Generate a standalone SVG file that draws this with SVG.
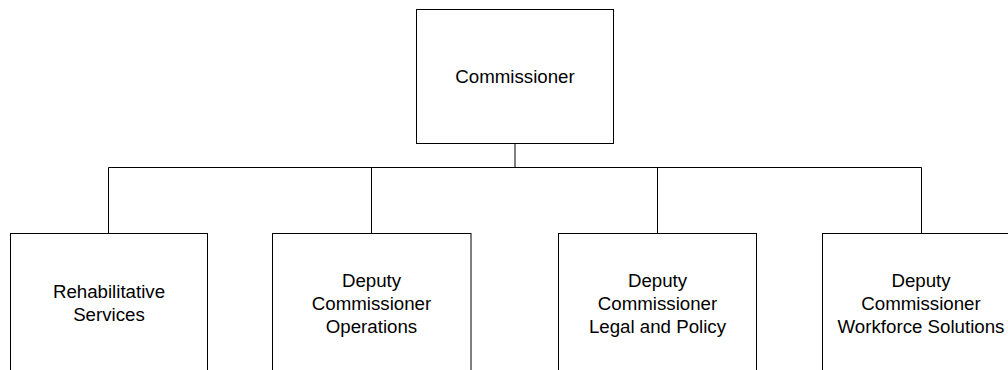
<svg xmlns="http://www.w3.org/2000/svg" width="1008" height="370" viewBox="0 0 1008 370">
<style>
.box{fill:#fff;stroke:#000;stroke-width:1}
.t{font-family:"Liberation Sans",Arial,sans-serif;font-size:18.7px;fill:#000;text-anchor:middle}
.c{fill:none;stroke:#000;stroke-width:1}
</style>
<rect width="1008" height="370" fill="#fff"/>
<g id="connectors">
<line class="c" x1="515" y1="143.5" x2="515" y2="167.5"/>
<line class="c" x1="108.5" y1="167.5" x2="921.5" y2="167.5"/>
<line class="c" x1="108.5" y1="167.5" x2="108.5" y2="233.5"/>
<line class="c" x1="371.5" y1="167.5" x2="371.5" y2="233.5"/>
<line class="c" x1="657.5" y1="167.5" x2="657.5" y2="233.5"/>
<line class="c" x1="921.5" y1="167.5" x2="921.5" y2="233.5"/>
</g>
<g id="commissioner">
<rect class="box" x="416.5" y="9.5" width="197" height="134"/>
<text class="t" x="515" y="83">Commissioner</text>
</g>
<g id="rehab">
<rect class="box" x="10.5" y="233.5" width="197" height="150"/>
<text class="t" x="109" y="298">Rehabilitative</text>
<text class="t" x="109" y="321">Services</text>
</g>
<g id="ops">
<rect class="box" x="272.5" y="233.5" width="198.5" height="150"/>
<text class="t" x="371.5" y="286.5">Deputy</text>
<text class="t" x="371.5" y="309.5">Commissioner</text>
<text class="t" x="371.5" y="332.5">Operations</text>
</g>
<g id="legal">
<rect class="box" x="558.5" y="233.5" width="198" height="150"/>
<text class="t" x="657.5" y="286.5">Deputy</text>
<text class="t" x="657.5" y="309.5">Commissioner</text>
<text class="t" x="657.5" y="332.5">Legal and Policy</text>
</g>
<g id="workforce">
<rect class="box" x="822.5" y="233.5" width="198" height="150"/>
<text class="t" x="921" y="286.5">Deputy</text>
<text class="t" x="921" y="309.5">Commissioner</text>
<text class="t" x="921" y="332.5">Workforce Solutions</text>
</g>
</svg>
